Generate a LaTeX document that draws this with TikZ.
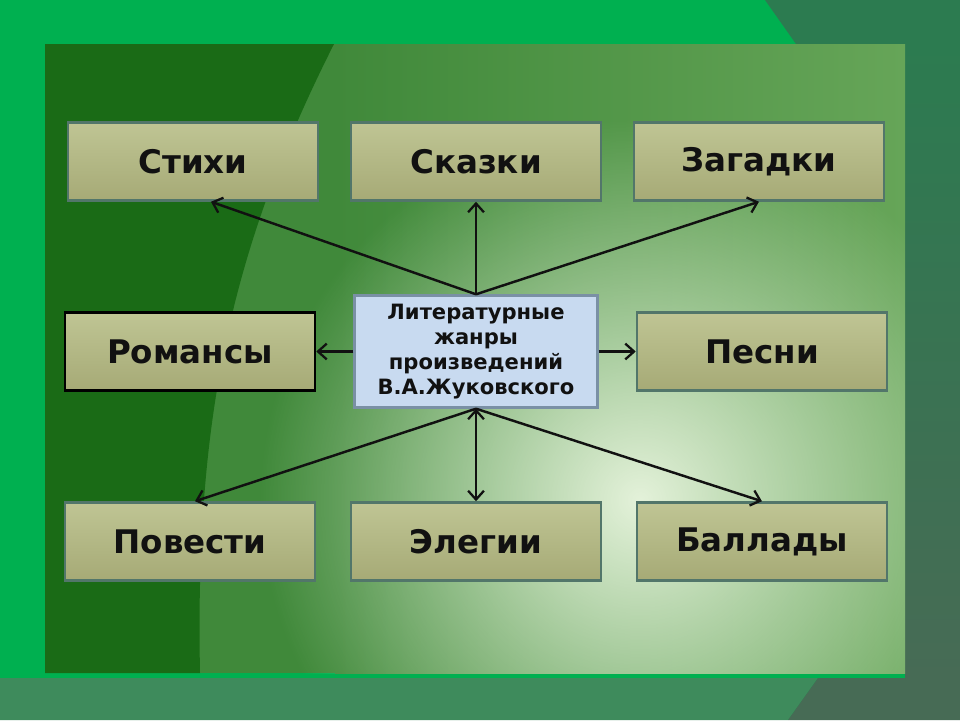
\documentclass[tikz,border=0pt]{standalone}
\usepackage{fontspec}
\setsansfont{DejaVu Sans}
\usepackage{tikz}
\usepackage{xcolor}
\usetikzlibrary{arrows.meta,fadings}

\definecolor{frame}{HTML}{00B050}
\definecolor{cornerteal}{HTML}{2C7B50}
\definecolor{stripgray}{HTML}{476B55}
\definecolor{stripgreen}{HTML}{3E8B5C}
\definecolor{paneldark}{HTML}{1A6B16}
\definecolor{panelmid}{HTML}{40893A}
\definecolor{panellight}{HTML}{BCDEAA}
\definecolor{panelright}{HTML}{66A558}
\definecolor{glow}{HTML}{E4F2DA}
\definecolor{boxtop}{HTML}{BFC594}
\definecolor{boxbot}{HTML}{A6AA76}
\definecolor{boxedge}{HTML}{52766A}
\definecolor{hubfill}{HTML}{C8DAF0}
\definecolor{hubedge}{HTML}{7A90A5}
\definecolor{ink}{HTML}{111111}

\tikzfading[name=glowfade, inner color=transparent!0, outer color=transparent!100]

\begin{document}
\begin{tikzpicture}[x=0.02cm, y=-0.02cm, node distance=3.8cm,
        >={Straight Barb[length=5pt,width=9pt,line width=1.3pt]},
        genre/.style={rectangle, draw=boxedge, line width=1.4pt, top color=boxtop, bottom color=boxbot,
            minimum width=5cm, minimum height=1.56cm, inner sep=0pt, text=ink,
            font=\sffamily\bfseries\fontsize{18.5}{22}\selectfont},
        hub/.style={rectangle, draw=hubedge, line width=1.4pt, fill=hubfill,
            minimum width=4.86cm, minimum height=2.24cm, inner sep=0pt, align=center, text=ink,
            font=\sffamily\bfseries\fontsize{12}{14.2}\selectfont},
        link/.style={line width=1.4pt, draw=ink}]

        % background
        \useasboundingbox (0,0) rectangle (960,720);
        \fill[frame] (0,0) rectangle (960,720);
        \fill[cornerteal] (765,0) -- (960,0) -- (960,60) -- (905,60) -- (905,44) -- (796,44) -- cycle;
        \shade[top color=cornerteal, bottom color=stripgray] (905,44) rectangle (960,678);
        \fill[stripgreen] (0,678) -- (818,678) -- (788,720) -- (0,720) -- cycle;
        \fill[stripgray] (818,678) -- (960,678) -- (960,720) -- (788,720) -- cycle;
        \begin{scope}
            \clip (45,44) rectangle (905,673);
            \fill[panelmid] (45,44) rectangle (905,673);
            \shade[left color=panelmid, middle color=panellight, right color=panelright] (335,44) rectangle (905,673);
            \fill[glow, path fading=glowfade] (640,500) circle (380);
            \fill[paneldark] (45,44) -- (334,44) .. controls (230,250) and (195,420) .. (200,673) -- (45,673) -- cycle;
        \end{scope}

        \node[hub] (L) at (476,351.5) {Литературные\\жанры\\произведений\\В.А.Жуковского};
        \node[genre, above of=L] (Sk) {Сказки};
        \node[genre, left of=Sk, node distance=5.66cm] (St) {Стихи};
        \node[genre, right of=Sk, node distance=5.66cm] (Za) {Загадки};
        \node[genre, draw=black, left of=L, node distance=5.72cm] (Ro) {Романсы};
        \node[genre, right of=L, node distance=5.72cm] (Pe) {Песни};
        \node[genre, below of=L] (El) {Элегии};
        \node[genre, left of=El, node distance=5.72cm] (Po) {Повести};
        \node[genre, right of=El, node distance=5.72cm] (Ba) {Баллады};

        \path[->,link]
        (L.north) edge (St.-66)
        (L.north) edge (Sk.south)
        (L.north) edge (Za.south)
        (L.west) edge (Ro.east)
        (L.east) edge (Pe.west)
        (L.south) edge (Po.83)
        (L.south) edge (El.north)
        (L.south) edge (Ba.north);
    \end{tikzpicture}
\end{document}
